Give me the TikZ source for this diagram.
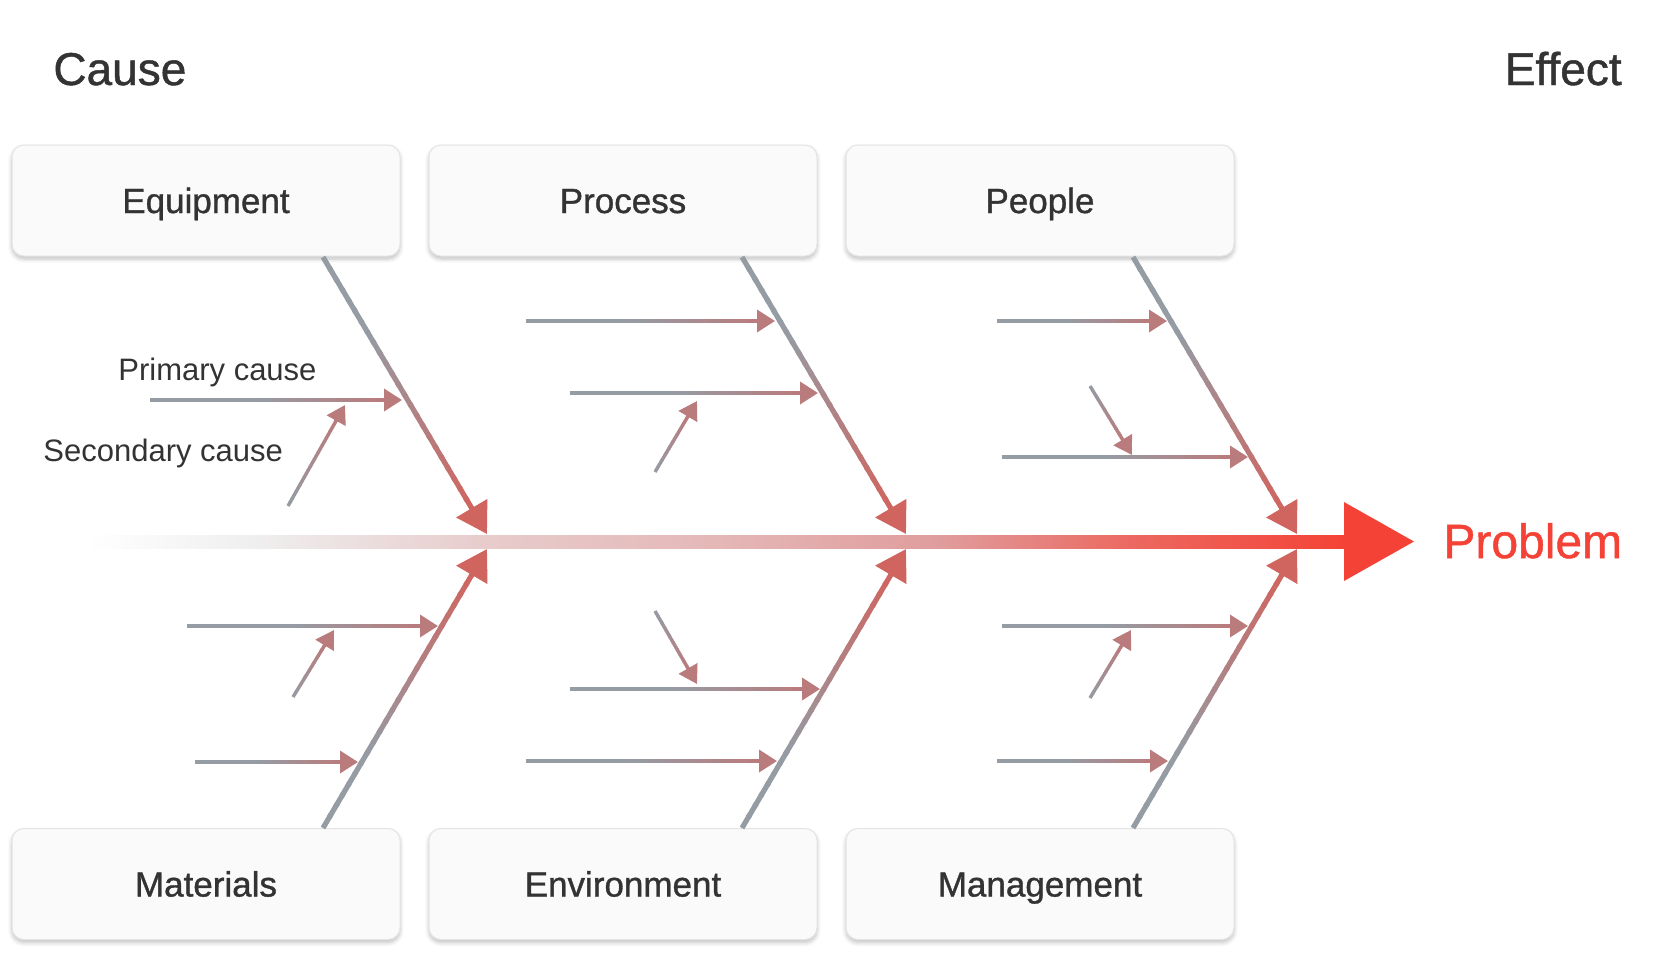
\documentclass[tikz,border=0pt]{standalone}
\usepackage{fontspec}
\setmainfont{Liberation Sans}
\newfontfamily\mediumfont[FakeBold=1.0]{Liberation Sans}
\usepackage{tikz}
\usetikzlibrary{calc,arrows.meta,positioning,shadows.blur}
\definecolor{textgrey}{HTML}{333333}
\definecolor{bonegrey}{HTML}{959CA4}
\definecolor{bonerose}{HTML}{BA7B7D}
\definecolor{bonered}{HTML}{D0645F}
\definecolor{probred}{HTML}{F44336}
\definecolor{boxfill}{HTML}{FAFAFA}
\definecolor{boxline}{HTML}{E4E4E4}
\definecolor{spinea}{HTML}{EFEFEF}
\definecolor{spineb}{HTML}{E8CCCC}
\definecolor{spinec}{HTML}{E5B8B8}
\definecolor{spined}{HTML}{E09C9C}
\definecolor{spinee}{HTML}{EC6860}
\pgfdeclarehorizontalshading{spinefade}{100bp}{color(0bp)=(white); color(25bp)=(white); color(31.6bp)=(spinea); color(40.7bp)=(spineb); color(49.8bp)=(spinec); color(59bp)=(spined); color(66.6bp)=(spinee); color(75bp)=(probred); color(100bp)=(probred)}
\makeatletter
\newcommand\gradarrow[8]{%
  \coordinate (gb) at ($(#2)!#7!(#1)$);
  \foreach \k in {1,...,24}{%
    \pgfmathsetmacro\ta{(\k-1)/24}%
    \pgfmathsetmacro\tb{min(1,(\k+0.3)/24)}%
    \pgfmathsetmacro\mix{max(0,min(100,100*((\k-0.5)/24-#6)/(1-#6)))}%
    \draw[line width=#5, color=#4!\mix!#3] ($(#1)!\ta!(gb)$) -- ($(#1)!\tb!(gb)$);
  }%
  \draw[line width=#5, color=#4, -{Triangle[length=#7,width=#8]}] ($(gb)!-0.5pt!(#2)$) -- (#2);
}
\newcommand\bone[2]{\gradarrow{#1}{#2}{bonegrey}{bonered}{2.6pt}{0.3}{15pt}{17.5pt}}
\newcommand\twig[2]{\gradarrow{#1}{#2}{bonegrey}{bonerose}{1.8pt}{0.45}{9pt}{11pt}}
\newcommand\leaf[2]{\gradarrow{#1}{#2}{bonegrey}{bonerose}{1.7pt}{0}{9pt}{10.5pt}}
\makeatother
\tikzset{
  category/.style={draw=boxline, line width=0.5pt, fill=boxfill, rounded corners=6pt,
    minimum width=194pt, minimum height=55.5pt, font=\mediumfont\fontsize{17.5}{20}\selectfont,
    text=textgrey, text height=12.5pt, text depth=0pt,
    blur shadow={shadow xshift=0pt, shadow yshift=-1.5pt, shadow blur steps=6, shadow opacity=25}},
  heading/.style={font=\mediumfont\fontsize{23}{27}\selectfont, text=textgrey, inner sep=0pt},
  hint/.style={font=\fontsize{15.5}{18}\selectfont, text=textgrey, inner sep=0pt, anchor=base west}
}

\begin{document}
\begin{tikzpicture}[x=0.5pt,y=-0.5pt]
\useasboundingbox (0,0) rectangle (1670,966);

\node[heading, anchor=base west] (cause) at (53,85) {Cause};
\node[heading, anchor=base east] (effect) at (1622,85) {Effect};

\node[category] (equipment) at (206,200.5) {Equipment};
\node[category, right=14pt of equipment] (process) {Process};
\node[category, right=14pt of process] (people) {People};
\node[category] (materials) at (206,884) {Materials};
\node[category, right=14pt of materials] (environment) {Environment};
\node[category, right=14pt of environment] (management) {Management};

\coordinate (tail) at (87,535);
\coordinate (neck) at (1344,548);
\shade[shading=spinefade] (tail) rectangle (neck);
\fill[probred] (1344,502) -- (1414,541.5) -- (1344,581) -- cycle;
\node[heading, font=\mediumfont\fontsize{24}{28}\selectfont, text=probred, anchor=base west] (problem) at (1443,558) {Problem};

\coordinate (e0) at (323,257);  \coordinate (e1) at (487,534);
\coordinate (p0) at (742,257);  \coordinate (p1) at (906,534);
\coordinate (h0) at (1133,257); \coordinate (h1) at (1297,534);
\coordinate (m0) at (323,828);  \coordinate (m1) at (487,549);
\coordinate (v0) at (742,828);  \coordinate (v1) at (906,549);
\coordinate (g0) at (1133,828); \coordinate (g1) at (1297,549);
\bone{e0}{e1} \bone{p0}{p1} \bone{h0}{h1}
\bone{m0}{m1} \bone{v0}{v1} \bone{g0}{g1}

\coordinate (ea0) at (150,400); \coordinate (ea1) at (402,400);
\coordinate (pa0) at (526,321); \coordinate (pa1) at (775,321);
\coordinate (pb0) at (570,393); \coordinate (pb1) at (818,393);
\coordinate (ha0) at (997,321); \coordinate (ha1) at (1167,321);
\coordinate (hb0) at (1002,457); \coordinate (hb1) at (1248,457);
\coordinate (ma0) at (187,626); \coordinate (ma1) at (438,626);
\coordinate (mb0) at (195,762); \coordinate (mb1) at (358,762);
\coordinate (va0) at (570,689); \coordinate (va1) at (820,689);
\coordinate (vb0) at (526,761); \coordinate (vb1) at (777,761);
\coordinate (ga0) at (1002,626); \coordinate (ga1) at (1248,626);
\coordinate (gb0) at (997,761); \coordinate (gb1) at (1168,761);
\twig{ea0}{ea1} \twig{pa0}{pa1} \twig{pb0}{pb1} \twig{ha0}{ha1} \twig{hb0}{hb1}
\twig{ma0}{ma1} \twig{mb0}{mb1} \twig{va0}{va1} \twig{vb0}{vb1} \twig{ga0}{ga1} \twig{gb0}{gb1}

\coordinate (es0) at (288,506); \coordinate (es1) at (345,405);
\coordinate (ps0) at (655,472); \coordinate (ps1) at (697,401);
\coordinate (hs0) at (1090,386); \coordinate (hs1) at (1132,455);
\coordinate (ms0) at (293,697); \coordinate (ms1) at (334,630);
\coordinate (vs0) at (655,611); \coordinate (vs1) at (697,684);
\coordinate (gs0) at (1090,698); \coordinate (gs1) at (1131,630);
\leaf{es0}{es1} \leaf{ps0}{ps1} \leaf{hs0}{hs1}
\leaf{ms0}{ms1} \leaf{vs0}{vs1} \leaf{gs0}{gs1}

\node[hint] (primary) at (118,380) {Primary cause};
\node[hint] (secondary) at (43,461) {Secondary cause};
\end{tikzpicture}
\end{document}
